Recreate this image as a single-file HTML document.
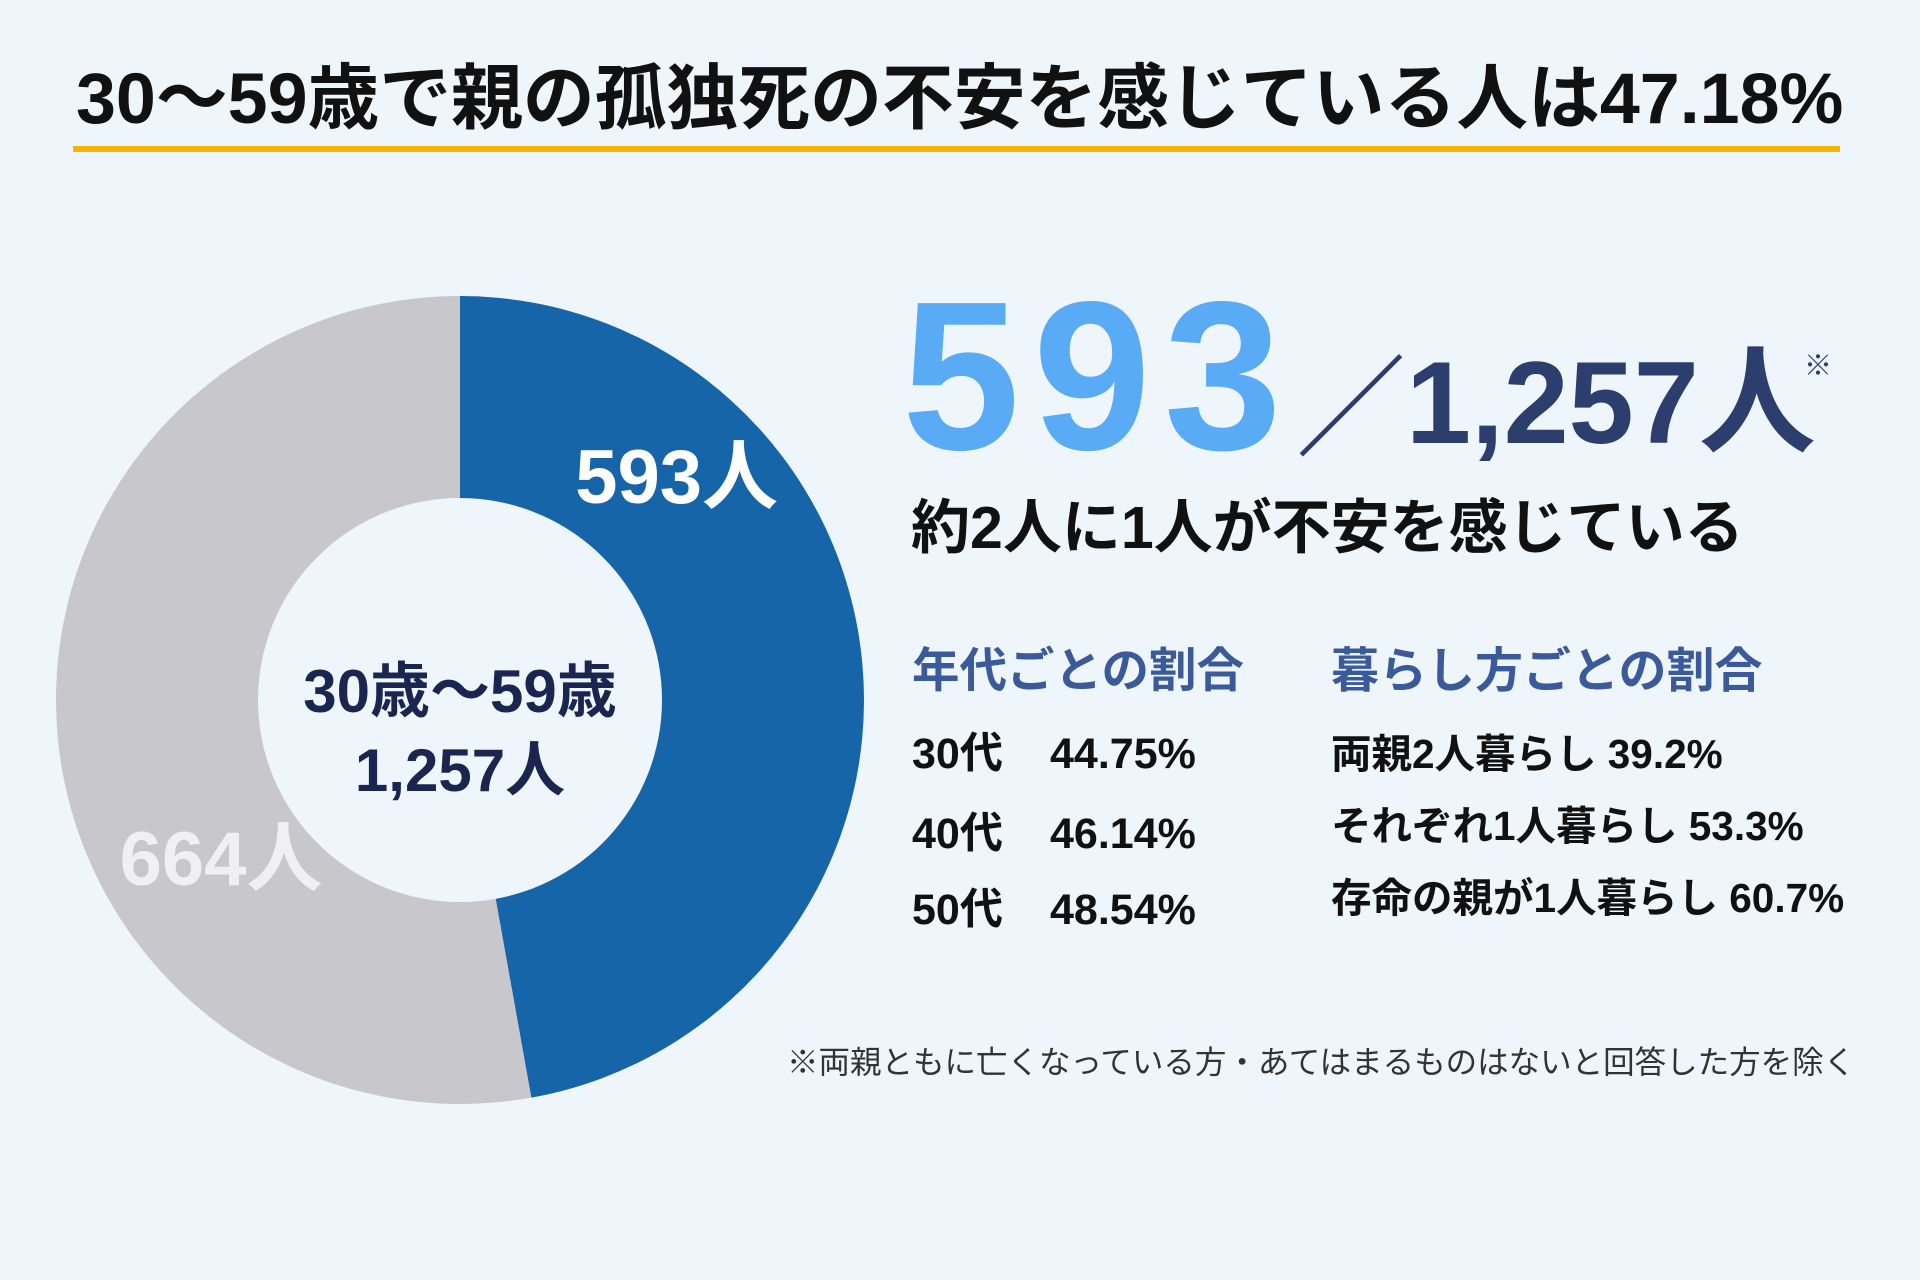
<!DOCTYPE html>
<html><head><meta charset="utf-8">
<style>
body{margin:0;width:1920px;height:1280px;background:#eef6fb;overflow:hidden;font-family:"Liberation Sans","Noto Sans CJK JP",sans-serif;font-weight:bold;}
.t{position:absolute;white-space:nowrap;}
</style></head><body>
<div class="t" style="left:76px;top:56px;font-size:71.8px;color:#111;line-height:86px;letter-spacing:0px">30～59歳で親の孤独死の不安を感じている人は47.18%</div>
<div style="position:absolute;left:73px;top:146px;width:1767px;height:6px;background:#f5b400"></div>
<svg id="donut" width="1920" height="1280" style="position:absolute;left:0;top:0"></svg>
<div class="t" style="left:260px;top:652px;width:400px;text-align:center;font-size:60px;color:#1a2550;line-height:80px">30歳～59歳</div>
<div class="t" style="left:260px;top:731px;width:400px;text-align:center;font-size:60px;color:#1a2550;line-height:80px">1,257人</div>
<div class="t" style="left:902px;top:256px;font-size:212px;color:#5aabf5;line-height:240px;letter-spacing:13px">593</div>
<div class="t" style="left:1296px;top:345px;font-size:110px;color:#2c3e6e;line-height:130px;font-weight:normal">／</div>
<div class="t" style="left:1406px;top:338px;font-size:117px;color:#2c3e6e;line-height:130px">1,257人</div>
<div class="t" style="left:1804px;top:344px;font-size:28px;color:#2c3e6e;font-weight:normal">※</div>
<div class="t" style="left:911px;top:492px;font-size:59px;color:#111;line-height:72px">約2人に1人が不安を感じている</div>
<div class="t" style="left:912px;top:642px;font-size:47.5px;color:#3a5a9a;line-height:60px">年代ごとの割合</div>
<div class="t" style="left:1331px;top:642px;font-size:48px;color:#3a5a9a;line-height:60px">暮らし方ごとの割合</div>
<div class="t" style="left:912px;top:728px;font-size:43px;color:#111;line-height:52px">30代<span style="position:absolute;left:138px">44.75%</span></div>
<div class="t" style="left:912px;top:808px;font-size:43px;color:#111;line-height:52px">40代<span style="position:absolute;left:138px">46.14%</span></div>
<div class="t" style="left:912px;top:884px;font-size:43px;color:#111;line-height:52px">50代<span style="position:absolute;left:138px">48.54%</span></div>
<div class="t" style="left:1331px;top:728px;font-size:40.5px;color:#111;line-height:52px">両親2人暮らし 39.2%</div>
<div class="t" style="left:1331px;top:800px;font-size:40.5px;color:#111;line-height:52px">それぞれ1人暮らし 53.3%</div>
<div class="t" style="left:1331px;top:872px;font-size:40.5px;color:#111;line-height:52px">存命の親が1人暮らし 60.7%</div>
<div class="t" style="left:787px;top:1042px;font-size:31.5px;color:#333;font-weight:normal;line-height:40px">※両親ともに亡くなっている方・あてはまるものはないと回答した方を除く</div>
<script>
const categories=["不安を感じている","感じていない"];
const values=[593,664];
const labels=["593人","664人"];
const colors=["#1565a8","#c8c8cc"];
const labelColors=["#ffffff","#f0f0f2"];
const cx=460,cy=700,R=404,r=202;
const svg=document.getElementById('donut');
const NS="http://www.w3.org/2000/svg";
const total=values.reduce((a,b)=>a+b,0);
function pt(a,rad){return [cx+rad*Math.sin(a),cy-rad*Math.cos(a)];}
let a0=0;
values.forEach((v,i)=>{
  const a1=a0+v/total*2*Math.PI;
  const large=(a1-a0)>Math.PI?1:0;
  const p1=pt(a0,R),p2=pt(a1,R),p3=pt(a1,r),p4=pt(a0,r);
  const path=document.createElementNS(NS,'path');
  path.setAttribute('d',`M${p1[0]},${p1[1]} A${R},${R} 0 ${large} 1 ${p2[0]},${p2[1]} L${p3[0]},${p3[1]} A${r},${r} 0 ${large} 0 ${p4[0]},${p4[1]} Z`);
  path.setAttribute('fill',colors[i]);
  
  
  svg.appendChild(path);
  const am=i===0?a0+(a1-a0)*0.26:a0+(a1-a0)*0.35;
  const lp=pt(am,i===0?311:287);
  const t=document.createElementNS(NS,'text');
  t.setAttribute('x',lp[0]);t.setAttribute('y',lp[1]+26);
  t.setAttribute('text-anchor','middle');
  t.setAttribute('font-size','76');t.setAttribute('font-weight','bold');
  t.setAttribute('fill',labelColors[i]);
  t.setAttribute('font-family','"Liberation Sans","Noto Sans CJK JP",sans-serif');
  
  
  t.textContent=labels[i];
  svg.appendChild(t);
  a0=a1;
});
</script>
</body></html>
